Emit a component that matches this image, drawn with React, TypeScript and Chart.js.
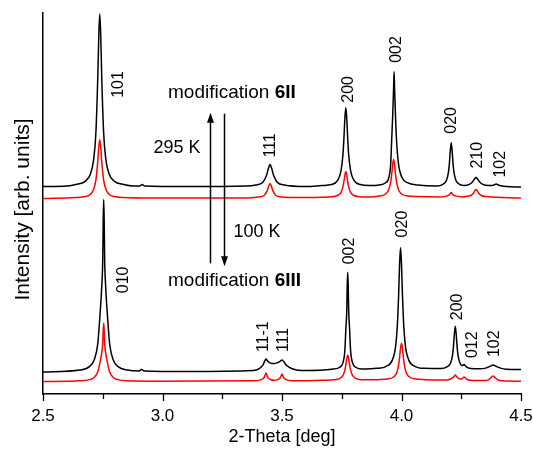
import React, { useEffect, useRef } from "react";
import { Chart, registerables } from "chart.js";

Chart.register(...registerables);

const FONT = '"Liberation Sans", Arial, Helvetica, sans-serif';

// x-axis ticks (2-Theta, deg)
const xMajorTicks = [2.5, 3.0, 3.5, 4.0, 4.5];
const xMinorTicks = [2.75, 3.25, 3.75, 4.25];

// modification 6II, 295 K (black, offset trace)
const top295Black: [number, number][] = [
  [2.5, 208], [2.6, 208.5], [2.6375, 210], [2.6775, 213.5], [2.6975, 220], [2.7125, 236],
  [2.7215, 263], [2.7295, 320], [2.7335, 360], [2.7375, 381], [2.7415, 360], [2.7455, 320],
  [2.7535, 263], [2.7625, 236], [2.7775, 220], [2.7975, 213.5], [2.8375, 210], [2.88, 208.5],
  [2.905, 208.5], [2.915, 210], [2.925, 208.5], [3.1, 208], [3.35, 208.5], [3.39, 209.5],
  [3.42, 212.4], [3.435, 219], [3.443, 226], [3.45, 230], [3.457, 226], [3.465, 219],
  [3.48, 212.4], [3.51, 209.5], [3.6, 208], [3.667, 209], [3.707, 210], [3.732, 214],
  [3.747, 224], [3.755, 240], [3.759, 256], [3.763, 276], [3.767, 287], [3.771, 276],
  [3.775, 256], [3.779, 240], [3.787, 224], [3.802, 214], [3.827, 210], [3.867, 209],
  [3.907, 209.6], [3.932, 211.6], [3.947, 217], [3.955, 231.4], [3.959, 255.4], [3.963, 278],
  [3.967, 307], [3.969, 323], [3.971, 307], [3.975, 278], [3.979, 255.4], [3.987, 231.4],
  [4.002, 217], [4.027, 211.6], [4.067, 209.6], [4.148, 208.5], [4.173, 210.2], [4.188, 214],
  [4.196, 221.6], [4.2, 230], [4.204, 243.2], [4.208, 252], [4.212, 243.2], [4.216, 230],
  [4.22, 221.6], [4.228, 214], [4.243, 210.2], [4.262, 209.1], [4.284, 210.2], [4.298, 212.8],
  [4.305, 215.3], [4.312, 217], [4.319, 215.3], [4.326, 212.8], [4.34, 210.2], [4.365, 209],
  [4.385, 209.3], [4.396, 210.5], [4.407, 209.3], [4.44, 208], [4.5, 207.5],
];

// modification 6II, 295 K (red, offset trace)
const top295Red: [number, number][] = [
  [2.5, 196], [2.6375, 197], [2.6775, 198], [2.6975, 200], [2.7125, 205.6], [2.7215, 215],
  [2.7295, 234], [2.7335, 248], [2.7375, 255], [2.7415, 248], [2.7455, 234], [2.7535, 215],
  [2.7625, 205.6], [2.7775, 200], [2.7975, 198], [2.8375, 197], [2.95, 196.5], [3.35, 196.5],
  [3.4, 197.5], [3.425, 199], [3.438, 203.7], [3.444, 208], [3.45, 211], [3.456, 208],
  [3.462, 203.7], [3.475, 199], [3.5, 197.5], [3.55, 197], [3.667, 197.3], [3.707, 197.7],
  [3.732, 199], [3.747, 202.2], [3.755, 207.7], [3.759, 212.9], [3.763, 219.4], [3.767, 223],
  [3.771, 219.4], [3.775, 212.9], [3.779, 207.7], [3.787, 202.2], [3.802, 199], [3.827, 197.7],
  [3.867, 197.5], [3.907, 198.5], [3.932, 200.3], [3.947, 205], [3.955, 212.9], [3.959, 220.4],
  [3.963, 229.8], [3.967, 235], [3.971, 229.8], [3.975, 220.4], [3.979, 212.9], [3.987, 205],
  [4.002, 200.3], [4.027, 198.5], [4.067, 197.9], [4.16, 197.5], [4.188, 198.4], [4.198, 199.3],
  [4.202, 200.2], [4.208, 202], [4.214, 200.2], [4.218, 199.3], [4.228, 198.4], [4.255, 197.6],
  [4.267, 198], [4.29, 199], [4.301, 201.3], [4.307, 203.7], [4.312, 205], [4.317, 203.7],
  [4.323, 201.3], [4.334, 199], [4.357, 198], [4.5, 196.5],
];

// modification 6III, 100 K (black)
const bottom100Black: [number, number][] = [
  [2.5, 22], [2.654, 24], [2.694, 27.5], [2.714, 34], [2.729, 50], [2.738, 77.4],
  [2.746, 108.5], [2.75, 134.5], [2.752, 174], [2.754, 195], [2.756, 174], [2.758, 134.5],
  [2.762, 108.5], [2.77, 77.4], [2.779, 50], [2.794, 34], [2.814, 27.5], [2.854, 24],
  [2.9, 23], [2.912, 24.5], [2.925, 23], [3.1, 22.5], [3.38, 23.5], [3.405, 25.5],
  [3.42, 29], [3.427, 32.5], [3.433, 35], [3.44, 33], [3.452, 31], [3.467, 30.5],
  [3.482, 31.5], [3.493, 33], [3.5, 34], [3.507, 32.5], [3.52, 28.5], [3.54, 25.5],
  [3.58, 23.5], [3.675, 24], [3.715, 25], [3.74, 26.6], [3.755, 31.4], [3.763, 43.6],
  [3.767, 64.2], [3.771, 83.8], [3.773, 108.5], [3.775, 122], [3.777, 108.5], [3.779, 83.8],
  [3.783, 64.2], [3.787, 43.6], [3.795, 31.4], [3.81, 26.6], [3.835, 25], [3.896, 25.7],
  [3.936, 27.8], [3.961, 33.7], [3.976, 49], [3.984, 74.7], [3.988, 99.2], [3.992, 130],
  [3.996, 147], [4.0, 130], [4.004, 99.2], [4.008, 74.7], [4.016, 49], [4.031, 33.7],
  [4.056, 27.8], [4.096, 25.7], [4.165, 25.5], [4.19, 27.2], [4.205, 30.9], [4.213, 38.3],
  [4.217, 46.5], [4.221, 59.4], [4.225, 68], [4.229, 59.4], [4.233, 46.5], [4.237, 38.3],
  [4.245, 30.9], [4.255, 28.5], [4.262, 29.5], [4.27, 27.5], [4.29, 25.5], [4.33, 25.3],
  [4.355, 26.2], [4.37, 27.7], [4.383, 29], [4.396, 27.7], [4.411, 26.2], [4.44, 24.8],
  [4.5, 24.5],
];

// modification 6III, 100 K (red)
const bottom100Red: [number, number][] = [
  [2.5, 12.5], [2.654, 13.2], [2.694, 14.4], [2.714, 16.6], [2.729, 22], [2.738, 31.2],
  [2.746, 41.75], [2.75, 50.5], [2.752, 64], [2.754, 71], [2.756, 64], [2.758, 50.5],
  [2.762, 41.75], [2.77, 31.2], [2.779, 22], [2.794, 16.6], [2.814, 14.4], [2.854, 13.2],
  [2.95, 12.8], [3.38, 13.2], [3.41, 14.2], [3.425, 16.5], [3.429, 18.8], [3.433, 21],
  [3.437, 18.8], [3.441, 16.5], [3.455, 14.3], [3.467, 13.8], [3.48, 14.2], [3.492, 16],
  [3.496, 18], [3.5, 20], [3.504, 18], [3.508, 16], [3.52, 14.2], [3.55, 13.2],
  [3.675, 13.8], [3.715, 14.2], [3.74, 15.4], [3.755, 18.6], [3.763, 24], [3.767, 29.1],
  [3.771, 35.5], [3.775, 39], [3.779, 35.5], [3.783, 29.1], [3.787, 24], [3.795, 18.6],
  [3.81, 15.4], [3.835, 14.2], [3.9, 14.4], [3.94, 15], [3.965, 16.8], [3.98, 21.4],
  [3.988, 29.2], [3.992, 36.6], [3.996, 45.9], [4.0, 51], [4.004, 45.9], [4.008, 36.6],
  [4.012, 29.2], [4.02, 21.4], [4.035, 16.8], [4.06, 15], [4.1, 14.4], [4.19, 14],
  [4.205, 15], [4.215, 16.5], [4.221, 18], [4.225, 19], [4.229, 18], [4.235, 16.3],
  [4.245, 15], [4.255, 15.5], [4.259, 16.5], [4.262, 17], [4.265, 16.5], [4.272, 15],
  [4.29, 13.8], [4.35, 13.5], [4.365, 14.5], [4.375, 16.5], [4.383, 18], [4.391, 16.5],
  [4.401, 14.5], [4.42, 13.2], [4.5, 12.8],
];

// Miller-index peak labels: text, 2-Theta, intensity at label start
const peakLabelText = ["101", "111", "200", "002", "020", "210", "102",
  "010", "11-1", "111", "002", "020", "200", "012", "102"];
const peakLabelX = [2.817, 3.452, 3.779, 3.98, 4.21, 4.319, 4.415,
  2.838, 3.423, 3.507, 3.783, 4.005, 4.235, 4.298, 4.39];
const peakLabelY = [297, 237, 292, 332, 261, 226, 217,
  101, 42, 42, 130, 157, 74, 36, 37];

const X_MIN = 2.5;
const X_MAX = 4.5;
const Y_MIN = 0;
const Y_MAX = 382;

const Y_TITLE = "Intensity [arb. units]";

const toXY = (arr: [number, number][]) => arr.map(([x, y]) => ({ x, y }));

const annotationPlugin = {
  id: "annotations",
  afterDraw(chart: any) {
    const { ctx, chartArea } = chart;
    const xs = chart.scales.x;
    const ys = chart.scales.y;
    const px = (v: number) => xs.getPixelForValue(v);
    const py = (v: number) => ys.getPixelForValue(v);
    ctx.save();
    ctx.strokeStyle = "#000";
    ctx.fillStyle = "#000";

    // outward tick marks
    ctx.lineWidth = 1.3;
    const yb = chartArea.bottom;
    xMajorTicks.forEach((t) => {
      const x = Math.round(px(t)) + 0.5;
      ctx.beginPath(); ctx.moveTo(x, yb); ctx.lineTo(x, yb + 7); ctx.stroke();
    });
    xMinorTicks.forEach((t) => {
      const x = Math.round(px(t)) + 0.5;
      ctx.beginPath(); ctx.moveTo(x, yb); ctx.lineTo(x, yb + 5); ctx.stroke();
    });

    // y-axis title
    ctx.save();
    ctx.font = `21px ${FONT}`;
    ctx.textAlign = "center";
    ctx.textBaseline = "middle";
    ctx.translate(chartArea.left - 20, (chartArea.top + chartArea.bottom) / 2 + 6);
    ctx.rotate(-Math.PI / 2);
    ctx.fillText(Y_TITLE, 0, 0);
    ctx.restore();

    // peak labels (rotated)
    ctx.font = `16px ${FONT}`;
    ctx.textAlign = "left";
    ctx.textBaseline = "middle";
    peakLabelText.forEach((t, i) => {
      ctx.save();
      ctx.translate(px(peakLabelX[i]), py(peakLabelY[i]));
      ctx.rotate(-Math.PI / 2);
      ctx.fillText(t, 0, 0);
      ctx.restore();
    });

    // texts
    const mixed = (a: string, b: string, x: number, y: number) => {
      ctx.font = `19px ${FONT}`;
      ctx.fillText(a, px(x), py(y));
      const w = ctx.measureText(a).width;
      ctx.font = `bold 19px ${FONT}`;
      ctx.fillText(b, px(x) + w, py(y));
    };
    mixed("modification ", "6II", 3.023, 302);
    mixed("modification ", "6III", 3.023, 114);
    ctx.font = `18px ${FONT}`;
    ctx.fillText("295 K", px(2.962), py(247));
    ctx.fillText("100 K", px(3.297), py(162));

    // arrows
    const arrow = (xv: number, y0: number, y1: number) => {
      const x = Math.round(px(xv)) + 0.5;
      const a = py(y0);
      const b = py(y1);
      const dir = b < a ? 1 : -1;
      ctx.lineWidth = 1.5;
      ctx.beginPath(); ctx.moveTo(x, a); ctx.lineTo(x, b + dir * 8); ctx.stroke();
      ctx.beginPath();
      ctx.moveTo(x, b);
      ctx.lineTo(x - 3.5, b + dir * 10);
      ctx.lineTo(x + 3.5, b + dir * 10);
      ctx.closePath();
      ctx.fill();
    };
    arrow(3.199, 131, 282);
    arrow(3.257, 281, 128);
    ctx.restore();
  },
};

export default function App() {
  const ref = useRef<HTMLCanvasElement>(null);
  useEffect(() => {
    const line = (data: [number, number][], color: string) => ({
      data: toXY(data),
      borderColor: color,
      borderWidth: 1.5,
      pointRadius: 0,
      cubicInterpolationMode: "monotone" as const,
      fill: false,
    });
    const chart = new Chart(ref.current as HTMLCanvasElement, {
      type: "line",
      data: {
        datasets: [
          line(top295Red, "#ff0000"),
          line(bottom100Red, "#ff0000"),
          line(top295Black, "#000000"),
          line(bottom100Black, "#000000"),
        ],
      },
      options: {
        animation: false,
        responsive: false,
        devicePixelRatio: 1,
        layout: { padding: { top: 13, right: 12, left: 0, bottom: 0 } },
        plugins: { legend: { display: false }, tooltip: { enabled: false } },
        scales: {
          x: {
            type: "linear",
            min: X_MIN,
            max: X_MAX,
            grid: { display: false, drawTicks: false },
            border: { display: true, color: "#000", width: 1.5 },
            ticks: {
              stepSize: 0.5,
              padding: 12,
              color: "#000",
              font: { family: FONT, size: 17 },
              maxRotation: 0,
              callback: (v: any) => Number(v).toFixed(1),
            },
            title: {
              display: true,
              text: "2-Theta [deg]",
              color: "#000",
              font: { family: FONT, size: 18 },
              padding: { top: 0, bottom: 3 },
            },
            afterFit: (s: any) => {
              s.height = 57;
              s.paddingLeft = 0;
              s.paddingRight = 0;
            },
          },
          y: {
            type: "linear",
            min: Y_MIN,
            max: Y_MAX,
            grid: { display: false, drawTicks: false },
            border: { display: true, color: "#000", width: 1.5 },
            ticks: { display: false },
            title: { display: false },
            afterFit: (s: any) => {
              s.width = 43;
              s.paddingTop = 0;
              s.paddingBottom = 0;
            },
          },
        },
      },
      plugins: [annotationPlugin],
    });
    return () => chart.destroy();
  }, []);
  return (
    <div style={{ position: "absolute", left: 0, top: 0, width: 533, height: 451, background: "#fff" }}>
      <canvas ref={ref} width={533} height={451} style={{ display: "block" }} />
    </div>
  );
}
